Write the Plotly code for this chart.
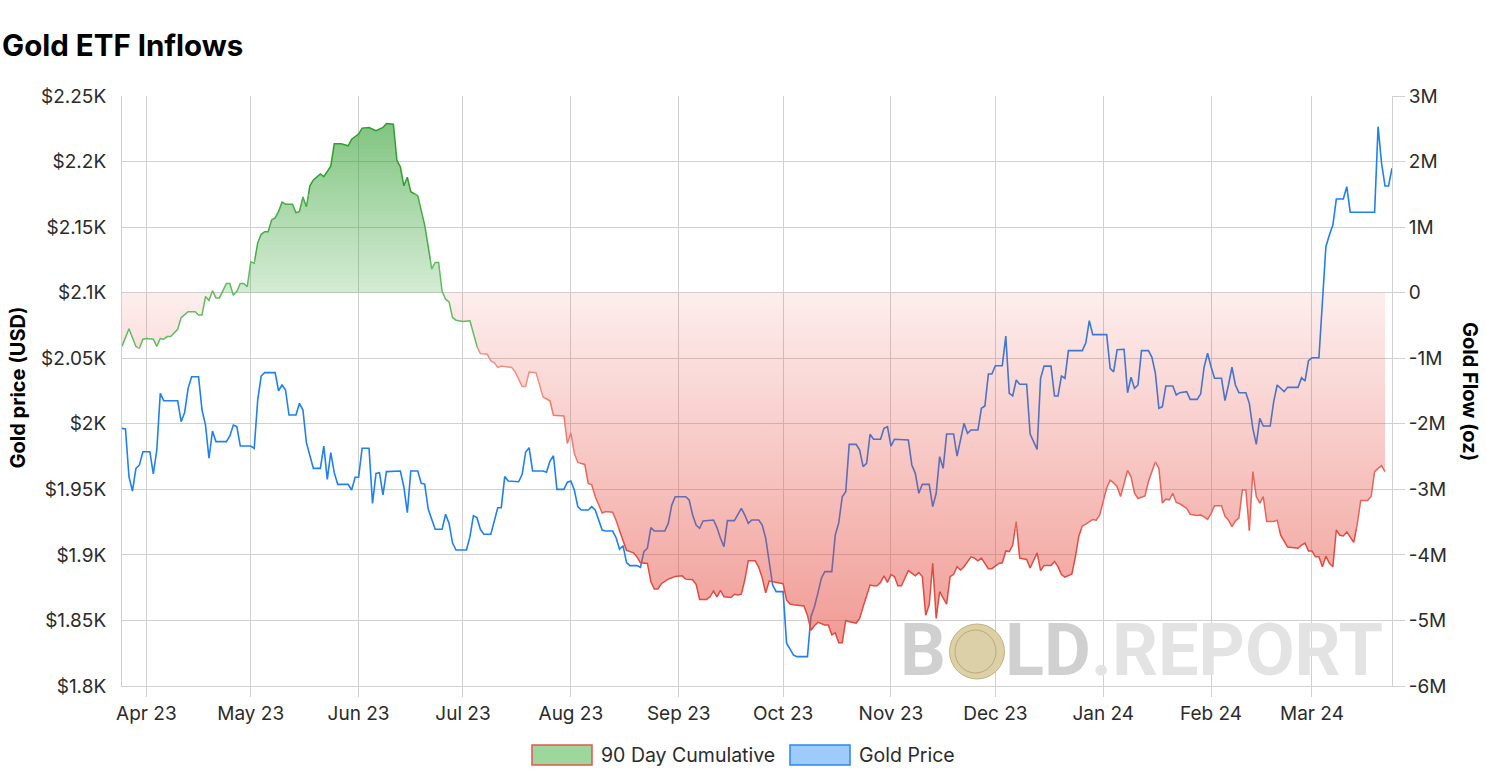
import pandas as pd
import plotly.graph_objects as go

# ---------------- data ----------------
price_dates = [
    "2023-03-25", "2023-03-26", "2023-03-27", "2023-03-28", "2023-03-29", "2023-03-30", "2023-03-31",
    "2023-04-02", "2023-04-03", "2023-04-04", "2023-04-05", "2023-04-06", "2023-04-10", "2023-04-11",
    "2023-04-12", "2023-04-13", "2023-04-14", "2023-04-16", "2023-04-17", "2023-04-18", "2023-04-19",
    "2023-04-20", "2023-04-21", "2023-04-24", "2023-04-25", "2023-04-26", "2023-04-27", "2023-04-28",
    "2023-05-01", "2023-05-02", "2023-05-03", "2023-05-04", "2023-05-05", "2023-05-08", "2023-05-09",
    "2023-05-10", "2023-05-11", "2023-05-12", "2023-05-14", "2023-05-15", "2023-05-16", "2023-05-17",
    "2023-05-19", "2023-05-21", "2023-05-22", "2023-05-23", "2023-05-24", "2023-05-25", "2023-05-26",
    "2023-05-29", "2023-05-30", "2023-05-31", "2023-06-01", "2023-06-02", "2023-06-04", "2023-06-05",
    "2023-06-06", "2023-06-07", "2023-06-08", "2023-06-09", "2023-06-13", "2023-06-14", "2023-06-15",
    "2023-06-16", "2023-06-18", "2023-06-19", "2023-06-20", "2023-06-21", "2023-06-23", "2023-06-25",
    "2023-06-26", "2023-06-27", "2023-06-28", "2023-06-29", "2023-07-02", "2023-07-03", "2023-07-04",
    "2023-07-05", "2023-07-06", "2023-07-07", "2023-07-09", "2023-07-10", "2023-07-11", "2023-07-12",
    "2023-07-13", "2023-07-14", "2023-07-17", "2023-07-18", "2023-07-19", "2023-07-20", "2023-07-21",
    "2023-07-24", "2023-07-25", "2023-07-26", "2023-07-27", "2023-07-28", "2023-07-30", "2023-07-31",
    "2023-08-01", "2023-08-02", "2023-08-03", "2023-08-04", "2023-08-06", "2023-08-07", "2023-08-08",
    "2023-08-10", "2023-08-11", "2023-08-13", "2023-08-14", "2023-08-15", "2023-08-16", "2023-08-17",
    "2023-08-18", "2023-08-20", "2023-08-21", "2023-08-22", "2023-08-23", "2023-08-24", "2023-08-25",
    "2023-08-28", "2023-08-29", "2023-08-30", "2023-08-31", "2023-09-03", "2023-09-04", "2023-09-05",
    "2023-09-06", "2023-09-07", "2023-09-08", "2023-09-11", "2023-09-12", "2023-09-13", "2023-09-14",
    "2023-09-15", "2023-09-17", "2023-09-19", "2023-09-20", "2023-09-21", "2023-09-22", "2023-09-24",
    "2023-09-25", "2023-09-26", "2023-09-27", "2023-09-28", "2023-09-29", "2023-10-01", "2023-10-02",
    "2023-10-04", "2023-10-05", "2023-10-08", "2023-10-09", "2023-10-10", "2023-10-11", "2023-10-12",
    "2023-10-13", "2023-10-15", "2023-10-16", "2023-10-17", "2023-10-18", "2023-10-19", "2023-10-20",
    "2023-10-22", "2023-10-23", "2023-10-24", "2023-10-25", "2023-10-26", "2023-10-27", "2023-10-29",
    "2023-10-30", "2023-10-31", "2023-11-01", "2023-11-02", "2023-11-06", "2023-11-07", "2023-11-08",
    "2023-11-09", "2023-11-10", "2023-11-12", "2023-11-13", "2023-11-14", "2023-11-15", "2023-11-16",
    "2023-11-17", "2023-11-19", "2023-11-20", "2023-11-21", "2023-11-22", "2023-11-23", "2023-11-24",
    "2023-11-26", "2023-11-27", "2023-11-28", "2023-11-29", "2023-11-30", "2023-12-01", "2023-12-03",
    "2023-12-04", "2023-12-05", "2023-12-06", "2023-12-07", "2023-12-08", "2023-12-10", "2023-12-11",
    "2023-12-13", "2023-12-14", "2023-12-15", "2023-12-17", "2023-12-18", "2023-12-19", "2023-12-20",
    "2023-12-21", "2023-12-22", "2023-12-26", "2023-12-27", "2023-12-28", "2023-12-29", "2024-01-02",
    "2024-01-03", "2024-01-04", "2024-01-05", "2024-01-07", "2024-01-08", "2024-01-09", "2024-01-10",
    "2024-01-11", "2024-01-12", "2024-01-14", "2024-01-15", "2024-01-16", "2024-01-17", "2024-01-18",
    "2024-01-19", "2024-01-21", "2024-01-22", "2024-01-23", "2024-01-25", "2024-01-26", "2024-01-28",
    "2024-01-29", "2024-01-30", "2024-01-31", "2024-02-01", "2024-02-02", "2024-02-04", "2024-02-05",
    "2024-02-06", "2024-02-07", "2024-02-08", "2024-02-09", "2024-02-11", "2024-02-12", "2024-02-13",
    "2024-02-14", "2024-02-15", "2024-02-16", "2024-02-18", "2024-02-19", "2024-02-20", "2024-02-22",
    "2024-02-23", "2024-02-26", "2024-02-27", "2024-02-28", "2024-02-29", "2024-03-01", "2024-03-03",
    "2024-03-05", "2024-03-06", "2024-03-07", "2024-03-08", "2024-03-10", "2024-03-11", "2024-03-12",
    "2024-03-19", "2024-03-20", "2024-03-21", "2024-03-22", "2024-03-23", "2024-03-24",
]
price_usd = [
    1996.5, 1996, 1959.6, 1948.7, 1966, 1968.6, 1978.7,
    1978.7, 1961.7, 1980, 2023.2, 2017.6, 2017.6, 2001.6,
    2008.5, 2027, 2035.9, 2035.9, 2010.5, 1999, 1973.7,
    1994.5, 1986.4, 1986.4, 1990.7, 1999, 1997.8, 1983,
    1983, 1981.3, 2018.1, 2036.4, 2039, 2039, 2025.2,
    2029.6, 2025.8, 2006.7, 2006.7, 2015.6, 2010.5, 1985.6,
    1966, 1966, 1983, 1957.6, 1978, 1962.7, 1953.8,
    1953.8, 1949.5, 1959.2, 1959.2, 1981.3, 1981.3, 1939.3,
    1962.2, 1962.7, 1945.7, 1963.5, 1964, 1952, 1932.2,
    1964, 1964, 1954.6, 1954, 1935, 1919.5, 1919.5,
    1931, 1924, 1909, 1903.7, 1903.7, 1913.9, 1929.9,
    1928.4, 1919.5, 1915.7, 1915.7, 1925.3, 1936, 1936,
    1959.7, 1956.4, 1955.8, 1961.5, 1978.3, 1981.8, 1964,
    1964, 1963, 1971.6, 1975.6, 1950, 1950, 1955.4,
    1956.4, 1949.5, 1936.8, 1934.2, 1934.2, 1936.8, 1934.2,
    1919, 1918.2, 1918.2, 1913.1, 1904.3, 1907, 1894.1,
    1891.8, 1891.8, 1890.5, 1902.5, 1905.1, 1920.8, 1918.2,
    1918.2, 1924, 1938, 1944.4, 1944.4, 1941.9, 1930.4,
    1922.8, 1920.3, 1925.9, 1926.6, 1920.8, 1912.7, 1906.3,
    1926.1, 1926.1, 1935.5, 1930.4, 1924, 1926.6, 1926.6,
    1922.8, 1912.7, 1896.1, 1877, 1872, 1872, 1832.6,
    1823.6, 1822.4, 1822.4, 1852.9, 1860.5, 1870.8, 1882.2,
    1887.2, 1887.2, 1915.2, 1924.6, 1944.4, 1948.2, 1984.3,
    1984.3, 1980, 1967.3, 1969.8, 1992, 1988.2, 1988.2,
    1996.5, 1997.8, 1983, 1988.2, 1987.6, 1968.6, 1962.2,
    1947, 1953.8, 1953.8, 1936.8, 1947, 1974.9, 1966,
    1992.2, 1992.2, 1975.4, 1987.6, 2000.3, 1992.7, 1995.3,
    1995.3, 2011.8, 2013.6, 2038, 2038, 2044.3, 2044.3,
    2066.9, 2023.2, 2021.2, 2033.4, 2030.1, 2030.1, 1992.2,
    1980.5, 2034.7, 2044, 2044, 2021.2, 2021.2, 2036.4,
    2034.7, 2055.8, 2055.8, 2061.8, 2078.6, 2068, 2068,
    2042.3, 2039.5, 2056.5, 2056.8, 2023.7, 2035.5, 2027,
    2029.6, 2055.8, 2055.8, 2050.7, 2038.5, 2011.8, 2013.1,
    2028.8, 2028.8, 2022, 2023.7, 2024.5, 2018.6, 2018.6,
    2022.7, 2043.1, 2053.8, 2043.5, 2034.7, 2034.7, 2017.6,
    2029.6, 2043.1, 2029.6, 2023.7, 2023.7, 2015.6, 1996.5,
    1984.3, 2004.2, 1998.3, 1998.3, 2016.9, 2029.6, 2024.5,
    2027.8, 2027.8, 2035.2, 2032.6, 2048.1, 2050.4, 2050.4,
    2135.1, 2144, 2151.6, 2171.4, 2171.4, 2180.8, 2161.3,
    2161.3, 2226.6, 2198.7, 2181.4, 2181.4, 2194.9,
]

flow_dates = [
    "2023-03-25", "2023-03-27", "2023-03-29", "2023-03-30", "2023-03-31", "2023-04-01", "2023-04-03",
    "2023-04-04", "2023-04-05", "2023-04-06", "2023-04-07", "2023-04-08", "2023-04-10", "2023-04-11",
    "2023-04-13", "2023-04-15", "2023-04-16", "2023-04-17", "2023-04-18", "2023-04-19", "2023-04-20",
    "2023-04-21", "2023-04-22", "2023-04-24", "2023-04-25", "2023-04-26", "2023-04-27", "2023-04-28",
    "2023-04-29", "2023-04-30", "2023-05-01", "2023-05-02", "2023-05-03", "2023-05-04", "2023-05-05",
    "2023-05-06", "2023-05-07", "2023-05-08", "2023-05-09", "2023-05-10", "2023-05-11", "2023-05-13",
    "2023-05-14", "2023-05-15", "2023-05-16", "2023-05-17", "2023-05-18", "2023-05-19", "2023-05-21",
    "2023-05-22", "2023-05-23", "2023-05-24", "2023-05-25", "2023-05-27", "2023-05-29", "2023-05-30",
    "2023-06-01", "2023-06-02", "2023-06-04", "2023-06-05", "2023-06-06", "2023-06-08", "2023-06-09",
    "2023-06-11", "2023-06-12", "2023-06-13", "2023-06-14", "2023-06-15", "2023-06-16", "2023-06-18",
    "2023-06-20", "2023-06-21", "2023-06-22", "2023-06-23", "2023-06-24", "2023-06-25", "2023-06-26",
    "2023-06-27", "2023-06-28", "2023-06-29", "2023-07-01", "2023-07-03", "2023-07-04", "2023-07-05",
    "2023-07-06", "2023-07-08", "2023-07-09", "2023-07-10", "2023-07-11", "2023-07-12", "2023-07-15",
    "2023-07-16", "2023-07-17", "2023-07-18", "2023-07-19", "2023-07-20", "2023-07-22", "2023-07-23",
    "2023-07-24", "2023-07-26", "2023-07-27", "2023-07-30", "2023-07-31", "2023-08-01", "2023-08-02",
    "2023-08-03", "2023-08-05", "2023-08-06", "2023-08-07", "2023-08-08", "2023-08-10", "2023-08-11",
    "2023-08-13", "2023-08-14", "2023-08-15", "2023-08-16", "2023-08-17", "2023-08-18", "2023-08-19",
    "2023-08-20", "2023-08-21", "2023-08-23", "2023-08-24", "2023-08-25", "2023-08-26", "2023-08-27",
    "2023-08-29", "2023-08-31", "2023-09-02", "2023-09-03", "2023-09-05", "2023-09-06", "2023-09-07",
    "2023-09-09", "2023-09-10", "2023-09-11", "2023-09-12", "2023-09-13", "2023-09-14", "2023-09-16",
    "2023-09-17", "2023-09-18", "2023-09-19", "2023-09-20", "2023-09-21", "2023-09-23", "2023-09-24",
    "2023-09-25", "2023-09-26", "2023-09-27", "2023-09-28", "2023-09-29", "2023-10-01", "2023-10-02",
    "2023-10-03", "2023-10-04", "2023-10-07", "2023-10-08", "2023-10-09", "2023-10-10", "2023-10-11",
    "2023-10-13", "2023-10-14", "2023-10-15", "2023-10-16", "2023-10-17", "2023-10-18", "2023-10-19",
    "2023-10-20", "2023-10-22", "2023-10-23", "2023-10-24", "2023-10-26", "2023-10-27", "2023-10-28",
    "2023-10-29", "2023-10-30", "2023-10-31", "2023-11-01", "2023-11-02", "2023-11-03", "2023-11-04",
    "2023-11-06", "2023-11-08", "2023-11-09", "2023-11-10", "2023-11-11", "2023-11-12", "2023-11-13",
    "2023-11-14", "2023-11-15", "2023-11-17", "2023-11-18", "2023-11-19", "2023-11-20", "2023-11-21",
    "2023-11-22", "2023-11-24", "2023-11-25", "2023-11-26", "2023-11-27", "2023-11-29", "2023-11-30",
    "2023-12-02", "2023-12-03", "2023-12-04", "2023-12-05", "2023-12-06", "2023-12-07", "2023-12-08",
    "2023-12-10", "2023-12-11", "2023-12-13", "2023-12-14", "2023-12-15", "2023-12-17", "2023-12-18",
    "2023-12-19", "2023-12-20", "2023-12-21", "2023-12-23", "2023-12-24", "2023-12-25", "2023-12-26",
    "2023-12-27", "2023-12-29", "2023-12-30", "2023-12-31", "2024-01-02", "2024-01-03", "2024-01-04",
    "2024-01-05", "2024-01-06", "2024-01-08", "2024-01-09", "2024-01-10", "2024-01-11", "2024-01-13",
    "2024-01-14", "2024-01-16", "2024-01-17", "2024-01-18", "2024-01-19", "2024-01-20", "2024-01-21",
    "2024-01-22", "2024-01-23", "2024-01-25", "2024-01-26", "2024-01-28", "2024-01-29", "2024-01-30",
    "2024-01-31", "2024-02-01", "2024-02-02", "2024-02-04", "2024-02-05", "2024-02-06", "2024-02-07",
    "2024-02-08", "2024-02-09", "2024-02-10", "2024-02-11", "2024-02-12", "2024-02-13", "2024-02-14",
    "2024-02-15", "2024-02-16", "2024-02-17", "2024-02-19", "2024-02-20", "2024-02-21", "2024-02-23",
    "2024-02-26", "2024-02-27", "2024-02-28", "2024-02-29", "2024-03-01", "2024-03-02", "2024-03-03",
    "2024-03-04", "2024-03-05", "2024-03-06", "2024-03-07", "2024-03-08", "2024-03-09", "2024-03-10",
    "2024-03-11", "2024-03-13", "2024-03-14", "2024-03-15", "2024-03-17", "2024-03-18", "2024-03-19",
    "2024-03-20", "2024-03-21", "2024-03-22",
]
flow_moz = [
    -0.82, -0.55, -0.82, -0.85, -0.71, -0.70, -0.71,
    -0.82, -0.70, -0.71, -0.67, -0.67, -0.56, -0.38,
    -0.29, -0.29, -0.34, -0.34, -0.06, -0.12, 0.03,
    -0.08, -0.08, 0.14, 0.14, -0.04, 0.02, 0.14,
    0.14, 0.09, 0.47, 0.45, 0.76, 0.89, 0.93,
    0.93, 1.11, 1.14, 1.24, 1.38, 1.35, 1.35,
    1.22, 1.24, 1.46, 1.31, 1.63, 1.72, 1.81,
    1.77, 1.86, 1.93, 2.27, 2.27, 2.24, 2.34,
    2.42, 2.51, 2.52, 2.50, 2.47, 2.52, 2.58,
    2.57, 2.02, 1.92, 1.63, 1.76, 1.54, 1.48,
    1.03, 0.73, 0.36, 0.46, 0.46, 0.02, -0.10,
    -0.14, -0.38, -0.42, -0.44, -0.43, -0.62, -0.82,
    -0.93, -0.94, -1.04, -1.07, -1.14, -1.12, -1.14,
    -1.21, -1.31, -1.43, -1.43, -1.21, -1.22, -1.41,
    -1.59, -1.65, -1.87, -1.88, -2.30, -2.14, -2.45,
    -2.59, -2.62, -2.91, -2.93, -3.11, -3.36, -3.34,
    -3.35, -3.47, -3.63, -3.80, -3.93, -3.95, -3.97,
    -4.03, -4.12, -4.13, -4.41, -4.52, -4.52, -4.44,
    -4.37, -4.33, -4.32, -4.37, -4.38, -4.45, -4.68,
    -4.68, -4.64, -4.55, -4.64, -4.54, -4.64, -4.65,
    -4.60, -4.61, -4.60, -4.38, -4.09, -4.09, -4.19,
    -4.35, -4.58, -4.40, -4.41, -4.42, -4.44, -4.69,
    -4.75, -4.76, -4.78, -4.92, -5.15, -5.08, -5.03,
    -5.07, -5.07, -5.22, -5.19, -5.34, -5.34, -5.00,
    -5.02, -5.04, -4.97, -4.79, -4.46, -4.47, -4.47,
    -4.42, -4.32, -4.42, -4.30, -4.33, -4.47, -4.47,
    -4.24, -4.32, -4.27, -4.33, -4.92, -4.76, -4.13,
    -4.97, -4.56, -4.75, -4.33, -4.30, -4.18, -4.23,
    -4.18, -4.03, -4.05, -4.09, -4.05, -4.21, -4.21,
    -4.13, -4.12, -3.94, -3.95, -3.85, -3.49, -4.05,
    -4.07, -4.20, -3.97, -4.24, -4.16, -4.16, -4.10,
    -4.18, -4.30, -4.34, -4.29, -4.03, -3.71, -3.56,
    -3.53, -3.46, -3.47, -3.39, -2.98, -2.86, -2.90,
    -2.96, -3.11, -2.71, -2.81, -3.06, -3.14, -3.10,
    -2.88, -2.58, -2.68, -3.21, -3.15, -3.16, -3.06,
    -3.20, -3.22, -3.29, -3.38, -3.40, -3.39, -3.42,
    -3.46, -3.37, -3.25, -3.25, -3.41, -3.47, -3.57,
    -3.48, -3.44, -3.01, -3.01, -3.63, -2.73, -3.11,
    -3.21, -3.11, -3.49, -3.49, -3.47, -3.70, -3.88,
    -3.90, -3.85, -3.82, -3.94, -3.94, -4.03, -4.03,
    -4.18, -4.02, -4.13, -4.18, -3.62, -3.70, -3.71,
    -3.65, -3.81, -3.54, -3.17, -3.17, -3.11, -2.73,
    -2.68, -2.64, -2.73,
]

price_tickvals = [1800, 1850, 1900, 1950, 2000, 2050, 2100, 2150, 2200, 2250]
price_ticktext = ["$1.8K", "$1.85K", "$1.9K", "$1.95K", "$2K", "$2.05K", "$2.1K", "$2.15K", "$2.2K", "$2.25K"]
flow_tickvals = [-6, -5, -4, -3, -2, -1, 0, 1, 2, 3]
flow_ticktext = ["-6M", "-5M", "-4M", "-3M", "-2M", "-1M", "0", "1M", "2M", "3M"]
legend_labels = ["90 Day Cumulative", "Gold Price"]

# ---------------- helpers ----------------
def clip_band(dates, vals, lo, hi):
    """Return the parts of the polyline that lie between lo and hi (with gaps)."""
    ts = pd.to_datetime(dates)
    xs, ys = [], []
    prev_full = False
    for i in range(len(vals) - 1):
        t0, t1, v0, v1 = ts[i], ts[i + 1], vals[i], vals[i + 1]
        if v0 == v1:
            if lo <= v0 <= hi:
                a, b = 0.0, 1.0
            else:
                prev_full = False
                continue
        else:
            ta = (lo - v0) / (v1 - v0)
            tb = (hi - v0) / (v1 - v0)
            a = max(0.0, min(ta, tb))
            b = min(1.0, max(ta, tb))
            if a >= b:
                prev_full = False
                continue
        pa = (t0 + (t1 - t0) * a, v0 + (v1 - v0) * a)
        pb = (t0 + (t1 - t0) * b, v0 + (v1 - v0) * b)
        if a == 0.0 and prev_full:
            xs.append(pb[0]); ys.append(pb[1])
        else:
            if xs:
                xs.append(None); ys.append(None)
            xs += [pa[0], pb[0]]
            ys += [pa[1], pb[1]]
        prev_full = (b == 1.0)
    return xs, ys

GRID = "#d0d0d0"
TXT = "#2b2b2b"
FONT = "Inter"

fig = go.Figure()

# gold price (left axis), drawn first so the flow area sits over it
fig.add_trace(go.Scatter(
    x=pd.to_datetime(price_dates), y=price_usd, mode="lines",
    line=dict(color="#1f80f0", width=1.6), hoverinfo="skip", yaxis="y",
))

# cumulative flow fills (right axis)
px_, py_ = clip_band(flow_dates, flow_moz, 0, 100)
fig.add_trace(go.Scatter(
    x=px_, y=py_, mode="lines", yaxis="y2", fill="tozeroy", line=dict(width=0),
    fillgradient=dict(type="vertical", start=0, stop=2.6,
                      colorscale=[[0, "rgba(60,165,60,0.22)"], [1, "rgba(50,160,50,0.62)"]]),
    hoverinfo="skip",
))
nx_, ny_ = clip_band(flow_dates, flow_moz, -100, 0)
fig.add_trace(go.Scatter(
    x=nx_, y=ny_, mode="lines", yaxis="y2", fill="tozeroy", line=dict(width=0),
    fillgradient=dict(type="vertical", start=-5.4, stop=0,
                      colorscale=[[0, "rgba(228,72,60,0.55)"], [1, "rgba(230,70,60,0.09)"]]),
    hoverinfo="skip",
))

# flow line coloured by level
bands = [
    (1.5, 100, "#2f9f2f"),
    (0.5, 1.5, "#45ad45"),
    (-0.83, 0.5, "#5fbc5f"),
    (-1.6, -0.83, "#f1907f"),
    (-2.6, -1.6, "#ed7a6c"),
    (-3.6, -2.6, "#e8645a"),
    (-100, -3.6, "#e24b41"),
]
for lo, hi, col in bands:
    bx, by = clip_band(flow_dates, flow_moz, lo, hi)
    fig.add_trace(go.Scatter(x=bx, y=by, mode="lines", yaxis="y2",
                             line=dict(color=col, width=1.5), hoverinfo="skip"))

# ---------------- layout ----------------
L, R, T, B = 122, 94, 96, 94
W, H = 1486, 780
pw, ph = W - L - R, H - T - B

def pxx(x):
    return (x - L) / pw

def pxy(y):
    return (H - B - y) / ph

fig.update_layout(
    width=W, height=H,
    margin=dict(l=L, r=R, t=T, b=B),
    paper_bgcolor="white", plot_bgcolor="white",
    showlegend=False,
    font=dict(family=FONT, color=TXT, size=19),
    title=dict(text="Gold ETF Inflows", x=2 / W, xref="container", xanchor="left",
               y=1 - 46 / H, yref="container", yanchor="middle",
               font=dict(family=FONT, size=29.5, color="#000000", weight=700)),
    xaxis=dict(type="date", range=["2023-03-25", "2024-03-24"], dtick="M1", tick0="2023-04-01",
               tickformat="%b %y", showgrid=True, gridcolor=GRID, gridwidth=1,
               ticks="outside", ticklen=10, tickcolor=GRID, showline=True, linecolor=GRID,
               zeroline=False, tickfont=dict(size=19, color=TXT)),
    yaxis=dict(range=[1800, 2250], tickvals=price_tickvals, ticktext=price_ticktext,
               showgrid=True, gridcolor=GRID, gridwidth=1, zeroline=False,
               showline=True, linecolor=GRID, ticks="outside", ticklen=11,
               tickcolor="rgba(0,0,0,0)", tickfont=dict(size=19, color=TXT)),
    yaxis2=dict(range=[-6, 3], overlaying="y", side="right", tickvals=flow_tickvals,
                ticktext=flow_ticktext, showgrid=False, zeroline=False,
                showline=True, linecolor=GRID, ticks="outside", ticklen=12,
                tickcolor=GRID, tickfont=dict(size=19, color=TXT)),
)

annotations = [
    dict(text="Gold price (USD)", textangle=-90, x=pxx(17.5), y=pxy(388), xref="paper", yref="paper",
         showarrow=False, xanchor="center", yanchor="middle",
         font=dict(family=FONT, size=20, color="#000000", weight=700)),
    dict(text="Gold Flow (oz)", textangle=90, x=pxx(1470), y=pxy(391), xref="paper", yref="paper",
         showarrow=False, xanchor="center", yanchor="middle",
         font=dict(family=FONT, size=20, color="#000000", weight=700)),
    # legend labels
    dict(text=legend_labels[0], x=pxx(599), y=pxy(755), xref="paper", yref="paper", showarrow=False,
         xanchor="left", yanchor="middle", font=dict(family=FONT, size=19.5, color=TXT)),
    dict(text=legend_labels[1], x=pxx(857), y=pxy(755), xref="paper", yref="paper", showarrow=False,
         xanchor="left", yanchor="middle", font=dict(family=FONT, size=19.5, color=TXT)),
    # watermark
    dict(text="B", x=pxx(898), y=pxy(650), xref="paper", yref="paper", showarrow=False,
         xanchor="left", yanchor="middle", font=dict(family="Roboto", size=72, color="#d0d0d0", weight=700)),
    dict(text="LD", x=pxx(1003), y=pxy(650), xref="paper", yref="paper", showarrow=False,
         xanchor="left", yanchor="middle", font=dict(family="Roboto", size=72, color="#d0d0d0", weight=700)),
    dict(text=".REPORT", x=pxx(1089), y=pxy(650), xref="paper", yref="paper", showarrow=False,
         xanchor="left", yanchor="middle", font=dict(family="Roboto", size=72, color="#e3e3e3", weight=700)),
]
fig.update_layout(annotations=annotations)

shapes = [
    # legend swatches
    dict(type="rect", xref="paper", yref="paper", x0=pxx(532), x1=pxx(592), y0=pxy(765), y1=pxy(745),
         fillcolor="#9dd79d", line=dict(color="#e3564b", width=1.5)),
    dict(type="rect", xref="paper", yref="paper", x0=pxx(790), x1=pxx(850), y0=pxy(765), y1=pxy(745),
         fillcolor="#9ecbfa", line=dict(color="#2f86f0", width=1.5)),
    # watermark coin
    dict(type="circle", xref="paper", yref="paper", x0=pxx(949.5), x1=pxx(1004.5), y0=pxy(679), y1=pxy(624),
         fillcolor="#dcd0a8", line=dict(color="#c4b27c", width=1), layer="above"),
    dict(type="circle", xref="paper", yref="paper", x0=pxx(955), x1=pxx(996), y0=pxy(673), y1=pxy(630),
         fillcolor="rgba(0,0,0,0)", line=dict(color="#bca872", width=1), layer="above"),
]
fig.update_layout(shapes=shapes)

fig.write_html("out.html", config={"displayModeBar": False},
               post_script="document.body.style.margin='0';document.body.style.overflow='hidden';")
